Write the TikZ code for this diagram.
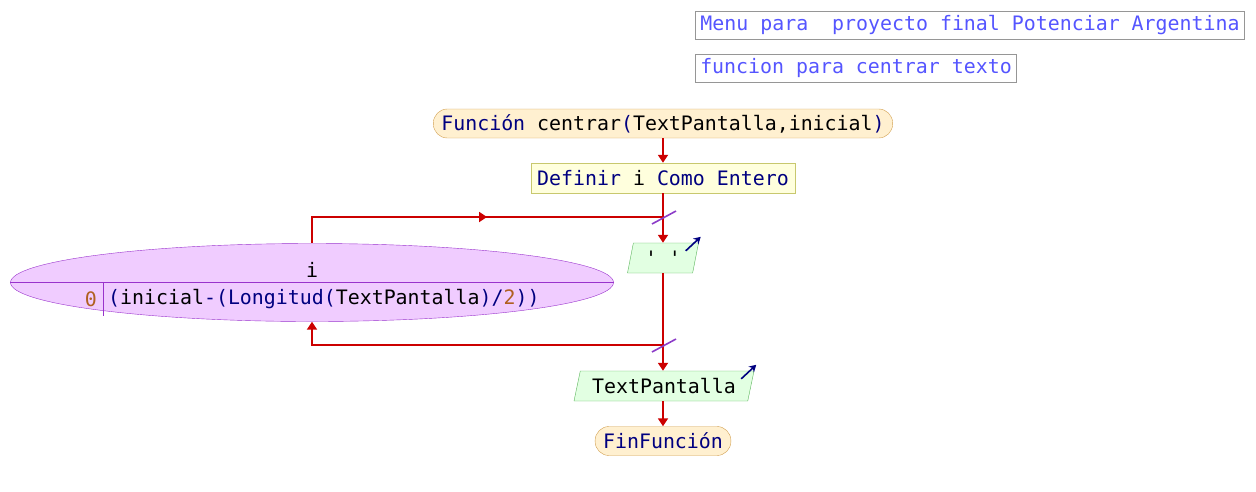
\documentclass[tikz,border=0pt]{standalone}
\usepackage{fontspec}
\setmonofont{DejaVu Sans Mono}
\usetikzlibrary{shapes.geometric,arrows.meta}
\definecolor{flowred}{RGB}{204,0,0}
\definecolor{kwblue}{RGB}{0,0,128}
\definecolor{noteblue}{RGB}{85,85,255}
\definecolor{notegray}{RGB}{150,150,150}
\definecolor{termfill}{RGB}{255,240,208}
\definecolor{termborder}{RGB}{210,160,80}
\definecolor{procfill}{RGB}{255,255,221}
\definecolor{procborder}{RGB}{200,200,110}
\definecolor{iofill}{RGB}{226,255,226}
\definecolor{ioborder}{RGB}{90,180,90}
\definecolor{loopfill}{RGB}{240,204,255}
\definecolor{loopborder}{RGB}{153,51,204}
\definecolor{slashpurple}{RGB}{140,60,200}
\definecolor{numbrown}{RGB}{176,96,32}
\begin{document}
\begin{tikzpicture}[x=1pt,y=-1pt,
  every node/.style={font=\ttfamily\fontsize{19.9pt}{24pt}\selectfont, inner sep=0pt},
  note/.style={draw=notegray, line width=1pt, text=noteblue, minimum height=28pt, inner xsep=5pt},
  term/.style={draw=termborder, fill=termfill, rounded corners=14pt, minimum height=29pt, inner xsep=8pt},
  proc/.style={draw=procborder, fill=procfill, minimum height=30pt, inner xsep=6pt},
  io/.style={trapezium, trapezium left angle=68, trapezium right angle=112,
    trapezium stretches body, draw=ioborder, fill=iofill, minimum height=30pt},
  loop/.style={ellipse, draw=loopborder, fill=loopfill, minimum width=603pt, minimum height=78pt},
  flow/.style={draw=flowred, line width=1.8pt},
  tip/.style={-{Triangle[length=8pt,width=10pt]}},
  slash/.style={draw=slashpurple, line width=1.6pt},
  outarrow/.style={draw=kwblue, line width=1.6pt, -{Stealth[length=7pt,width=8pt]}}]
  \useasboundingbox (0,0) rectangle (1256,491);
  % notes
  \node[note] (n1) at (970,25.5) {Menu para\ \ proyecto final Potenciar Argentina};
  \node[note] (n2) at (856,68.5) {funcion para centrar texto};
  % main column
  \node[term] (beg) at (663,123.5) {{\color{kwblue}Función} centrar{\color{kwblue}(}TextPantalla,inicial{\color{kwblue})}};
  \node[proc] (def) at (663,178) {{\color{kwblue}Definir} i {\color{kwblue}Como Entero}};
  \node[io, minimum width=71pt] (o1) at (663,258) {' '};
  \node[io, minimum width=180pt] (o2) at (664,386) {TextPantalla};
  \node[term] (fin) at (663,441) {\color{kwblue}FinFunción};
  % for loop
  \node[loop] (lp) at (312,282.5) {};
  \draw[loopborder] (lp.west) -- (lp.east);
  \draw[loopborder] (103,283) -- (103,316);
  \node (lv) at (312,270) {i};
  \node[anchor=east] (l0) at (97,299) {\color{numbrown}0};
  \node[anchor=west] (lx) at (108,299) {{\color{kwblue}(}inicial{\color{kwblue}-(Longitud(}TextPantalla{\color{kwblue})/}{\color{numbrown}2}{\color{kwblue}))}};
  \coordinate (jt) at (663,217);
  \coordinate (jb) at (663,345);
  \coordinate (mt) at (487,217);
  % connectors
  \draw[flow, tip] (beg) -- (def);
  \draw[flow] (def) -- (jt);
  \draw[flow, tip] (jt) -- (jt |- o1.north);
  \draw[flow] (jt |- o1.south) -- (jb);
  \draw[flow, tip] (jb) -- (jb |- o2.north);
  \draw[flow, tip] (jb |- o2.south) -- (jb |- fin.north);
  \draw[flow] (jt) -| (lp.north);
  \draw[flow, tip] (lp.north |- jt) -- (mt);
  \draw[flow, tip] (jb) -| (lp.south);
  \draw[slash] (jt) ++(-11,7) -- ++(24,-13);
  \draw[slash] (jb) ++(-11,7) -- ++(24,-13);
  \draw[outarrow] (o1.top right corner) ++(-13,8) -- ++(15,-14);
  \draw[outarrow] (o2.top right corner) ++(-13,8) -- ++(15,-14);
\end{tikzpicture}
\end{document}
